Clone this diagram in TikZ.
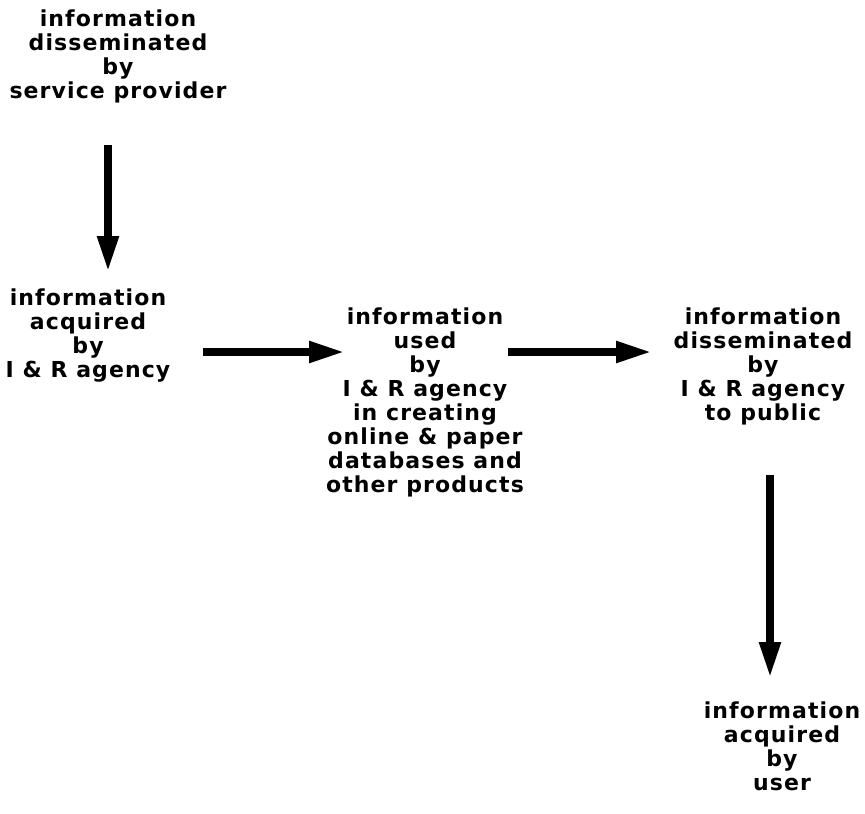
\documentclass[tikz,border=0pt]{standalone}
\usepackage{fontspec}
\setmainfont{DejaVu Sans}[BoldFeatures={LetterSpace=5}]
\usetikzlibrary{arrows.meta}
\begin{document}
\begin{tikzpicture}[x=1pt,y=1pt,
  stage/.style={align=center,font=\fontsize{22}{24}\selectfont\bfseries,inner sep=0pt},
  flow/.style={line width=8pt,-{Triangle[length=36pt,width=20pt]}}]
\useasboundingbox (0,0) rectangle (865,-814);
% stages of the information flow
\node[stage] (prov) at (118,-56) {information\\disseminated\\by\\service provider};
\node[stage] (acq) at (88,-336) {information\\acquired\\by\\I \& R agency};
\node[stage] (used) at (425,-402) {information\\used\\by\\I \& R agency\\in creating\\online \& paper\\databases and\\other products};
\node[stage] (pub) at (763,-366) {information\\disseminated\\by\\I \& R agency\\to public};
\node[stage] (user) at (782,-746) {information\\acquired\\by\\user};
% arrow end points
\coordinate (a1s) at (108,-145);
\coordinate (a1e) at (108,-272);
\coordinate (a2s) at (203,-352);
\coordinate (a2e) at (345,-352);
\coordinate (a3s) at (508,-352);
\coordinate (a3e) at (652,-352);
\coordinate (a4s) at (770,-475);
\coordinate (a4e) at (770,-678);
\draw[flow] (a1s) -- (a1e);
\draw[flow] (a2s) -- (a2e);
\draw[flow] (a3s) -- (a3e);
\draw[flow] (a4s) -- (a4e);
\end{tikzpicture}
\end{document}
